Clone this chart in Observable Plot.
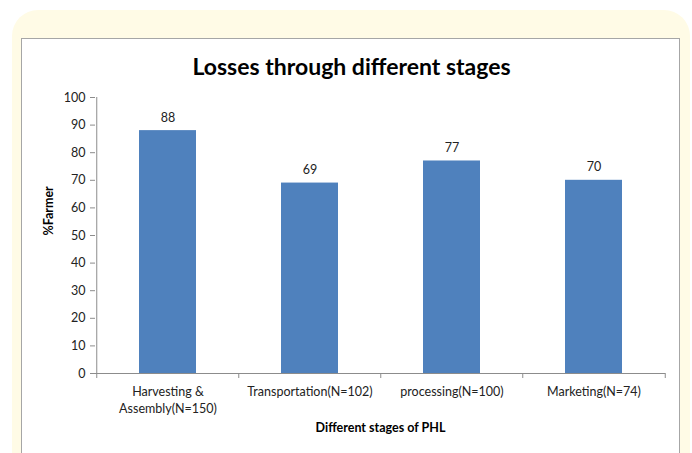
<!DOCTYPE html>
<html>
<head>
<meta charset="utf-8">
<script src="https://cdn.jsdelivr.net/npm/d3@7"></script>
<script src="https://cdn.jsdelivr.net/npm/@observablehq/plot@0.6"></script>
<style>
  html, body { margin: 0; padding: 0; background: #ffffff; }
  #wrap { position: relative; width: 692px; height: 453px; overflow: hidden; font-family: Lato, "Open Sans", sans-serif; }
  #cream { position: absolute; left: 12px; top: 10px; width: 678px; height: 470px; background: #FFFBE6; border-radius: 26px; }
  #box { position: absolute; left: 21px; top: 38px; width: 657px; height: 440px; background: #ffffff; border: 1.5px solid #a6a6a6; }
  #title { position: absolute; left: 0; top: 52px; width: 703px; text-align: center; font-weight: bold; font-size: 23px; color: #000; }
  #chart { position: absolute; left: 0; top: 0; }
</style>
</head>
<body>
<div id="wrap">
  <div id="cream"></div>
  <div id="box"></div>
  <div id="title">Losses through different stages</div>
  <div id="chart"></div>
</div>
<script>
const categories = ["Harvesting &\nAssembly(N=150)", "Transportation(N=102)", "processing(N=100)", "Marketing(N=74)"];
const values = [88, 69, 77, 70];
const yTicks = [0, 10, 20, 30, 40, 50, 60, 70, 80, 90, 100];
const yLabel = "%Farmer";
const xLabel = "Different stages of PHL";

const data = categories.map((c, i) => ({stage: c, value: values[i]}));
const step = (665 - 95) / categories.length;

const plot = Plot.plot({
  width: 692,
  height: 453,
  marginLeft: 95,
  marginRight: 27,
  marginTop: 97,
  marginBottom: 80,
  style: {background: "transparent", fontFamily: "Lato, 'Open Sans', sans-serif", fontSize: "12px", color: "#333"},
  x: {domain: categories, paddingInner: 0.6, paddingOuter: 0.3, label: null},
  y: {domain: [0, 100], label: null},
  marks: [
    Plot.barY(data, {x: "stage", y: "value", fill: "#4F81BD"}),
    Plot.text(data, {x: "stage", y: "value", text: d => String(d.value), dy: -13, fontSize: 12.5, fill: "#222"}),
    Plot.ruleY([0], {stroke: "#8c8c8c"}),
    Plot.ruleX([0], {x: () => categories[0], dx: -step / 2, y1: 0, y2: 100, stroke: "#8c8c8c"}),
    Plot.ruleX(categories, {x: d => d, dx: -step / 2, y1: 0, y2: 0, insetBottom: -5, stroke: "#8c8c8c"}),
    Plot.ruleX([categories[categories.length - 1]], {x: d => d, dx: step / 2, y1: 0, y2: 0, insetBottom: -5, stroke: "#8c8c8c"}),
    Plot.axisY({ticks: yTicks, tickSize: 5, tickPadding: 5, stroke: "#8c8c8c", fontSize: 12.5, fill: "#222", label: null}),
    Plot.axisX({tickSize: 0, tickPadding: 11, fontSize: 12.5, fill: "#222", lineHeight: 1.35, label: null}),
    Plot.text([yLabel], {frameAnchor: "left", dx: -47, rotate: -90, fontWeight: "bold", fontSize: 12.5, fill: "#000"}),
    Plot.text([xLabel], {frameAnchor: "bottom", dy: 58, fontWeight: "bold", fontSize: 12.5, fill: "#000"})
  ]
});
document.getElementById("chart").appendChild(plot);
</script>
</body>
</html>
